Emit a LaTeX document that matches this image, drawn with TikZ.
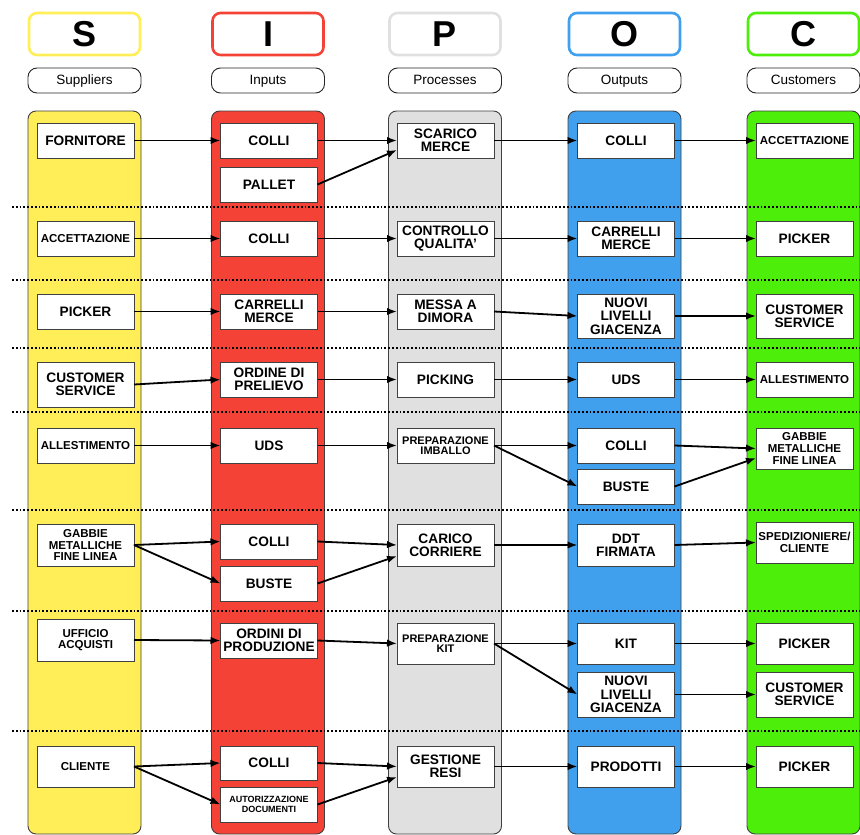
\documentclass[tikz,border=0pt]{standalone}
\usepackage{fontspec}
\setmainfont{Liberation Sans}
\usetikzlibrary{arrows.meta,shadows}
\definecolor{supY}{HTML}{FFEE58}
\definecolor{inpR}{HTML}{F44336}
\definecolor{proG}{HTML}{E0E0E0}
\definecolor{outB}{HTML}{40A0EE}
\definecolor{cusG}{HTML}{4CEE0A}
\begin{document}
\begin{tikzpicture}[x=1pt,y=-1pt,
  hdr/.style={draw, line width=2.6pt, rounded corners=8pt, fill=white,
    minimum width=111pt, minimum height=42pt, inner sep=0pt,
    font=\bfseries\fontsize{36}{36}\selectfont},
  pill/.style={draw=black!85, line width=0.9pt, rounded corners=9pt, fill=white,
    minimum width=113pt, minimum height=25pt, inner sep=0pt,
    text height=9.8pt, text depth=2.6pt,
    font=\fontsize{13.5}{13.5}\selectfont},
  lane/.style={draw=black!75, line width=0.9pt, rounded corners=8pt,
    minimum width=113pt, minimum height=723pt, inner sep=0pt},
  box/.style={draw=black!75, line width=0.9pt, fill=white, outer sep=0pt,
    minimum width=97pt, minimum height=35pt, inner sep=0pt, align=center,
    drop shadow={shadow xshift=0.8pt, shadow yshift=-0.8pt, opacity=0.45, fill=black!70},
    font=\bfseries\fontsize{13.7}{13.4}\selectfont},
  sm/.style={font=\bfseries\fontsize{11.5}{11.7}\selectfont},
  prep/.style={font=\bfseries\fontsize{11}{10.2}\selectfont},
  tiny/.style={font=\bfseries\fontsize{9}{10}\selectfont},
  arr/.style={-{Latex[length=10pt,width=7.5pt]}, line width=1.8pt, black},
  sep/.style={line width=1.7pt, dash pattern=on 1.7pt off 2.1pt, black}]
\useasboundingbox (0,0) rectangle (860,835);

% column headers
\node[hdr, draw=supY] (hS) at (84.5,34) {S};
\node[hdr, draw=inpR] (hI) at (268,34) {I};
\node[hdr, draw=proG] (hP) at (445,34) {P};
\node[hdr, draw=outB] (hO) at (624.5,34) {O};
\node[hdr, draw=cusG] (hC) at (803.5,34) {C};

\node[pill] (tS) at (84.5,80.5) {Suppliers};
\node[pill] (tI) at (268,80.5) {Inputs};
\node[pill] (tP) at (445,80.5) {Processes};
\node[pill] (tO) at (624.5,80.5) {Outputs};
\node[pill] (tC) at (803.5,80.5) {Customers};

% swimlanes
\node[lane, fill=supY] (lS) at (84.5,472.5) {};
\node[lane, fill=inpR] (lI) at (268,472.5) {};
\node[lane, fill=proG] (lP) at (445,472.5) {};
\node[lane, fill=outB] (lO) at (624.5,472.5) {};
\node[lane, fill=cusG] (lC) at (803.5,472.5) {};

% row separators
\foreach \yy in {207,280,348,412,510,611,731}
  \draw[sep] (12,\yy) -- (860,\yy);

% row 1
\node[box] (s1) at (85.5,140.5) {FORNITORE};
\node[box] (i1a) at (269,140.5) {COLLI};
\node[box] (i1b) at (269,184.5) {PALLET};
\node[box] (p1) at (445.5,140.5) {SCARICO\\MERCE};
\node[box] (o1) at (626,140.5) {COLLI};
\node[box, sm] (c1) at (804.5,140.5) {ACCETTAZIONE};

% row 2
\node[box, sm] (s2) at (85.5,238.5) {ACCETTAZIONE};
\node[box] (i2) at (269,238.5) {COLLI};
\node[box] (p2) at (445.5,238.5) {CONTROLLO\\QUALITA'};
\node[box] (o2) at (626,238.5) {CARRELLI\\MERCE};
\node[box] (c2) at (804.5,238.5) {PICKER};

% row 3
\node[box] (s3) at (85.5,311.5) {PICKER};
\node[box] (i3) at (269,311.5) {CARRELLI\\MERCE};
\node[box] (p3) at (445.5,311.5) {MESSA A\\DIMORA};
\node[box, minimum height=44pt] (o3) at (626,316) {NUOVI\\LIVELLI\\GIACENZA};
\node[box, minimum height=44pt] (c3) at (804.5,316) {CUSTOMER\\SERVICE};

% row 4
\node[box, minimum height=45pt] (s4) at (85.5,384.5) {CUSTOMER\\SERVICE};
\node[box] (i4) at (269,379.5) {ORDINE DI\\PRELIEVO};
\node[box] (p4) at (445.5,379.5) {PICKING};
\node[box] (o4) at (626,379.5) {UDS};
\node[box, sm] (c4) at (804.5,379.5) {ALLESTIMENTO};

% row 5
\node[box, sm] (s5) at (85.5,445.5) {ALLESTIMENTO};
\node[box] (i5) at (269,445.5) {UDS};
\node[box, prep] (p5) at (445.5,445.5) {PREPARAZIONE\\IMBALLO};
\node[box] (o5a) at (626,445.5) {COLLI};
\node[box] (o5b) at (626,486.5) {BUSTE};
\node[box, sm, minimum height=41pt] (c5) at (804.5,448.5) {GABBIE\\METALLICHE\\FINE LINEA};

% row 6
\node[box, sm, minimum height=42pt] (s6) at (85.5,545) {GABBIE\\METALLICHE\\FINE LINEA};
\node[box] (i6a) at (269,541.5) {COLLI};
\node[box] (i6b) at (269,583.5) {BUSTE};
\node[box, minimum height=42pt] (p6) at (445.5,545) {CARICO\\CORRIERE};
\node[box, minimum height=42pt] (o6) at (626,545) {DDT\\FIRMATA};
\node[box, sm, minimum height=41pt] (c6) at (804.5,542.5) {SPEDIZIONIERE/\\CLIENTE};

% row 7
\node[box, sm, minimum height=42pt] (s7) at (85.5,640) {UFFICIO\\ACQUISTI};
\node[box] (i7) at (269,640.5) {ORDINI DI\\PRODUZIONE};
\node[box, prep, minimum height=41pt] (p7) at (445.5,643.5) {PREPARAZIONE\\KIT};
\node[box, minimum height=41pt] (o7a) at (626,643.5) {KIT};
\node[box, minimum height=45pt] (o7b) at (626,694.5) {NUOVI\\LIVELLI\\GIACENZA};
\node[box, minimum height=41pt] (c7a) at (804.5,643.5) {PICKER};
\node[box, minimum height=45pt] (c7b) at (804.5,694.5) {CUSTOMER\\SERVICE};

% row 8
\node[box, sm, minimum height=41pt] (s8) at (85.5,766.5) {CLIENTE};
\node[box, minimum height=34pt] (i8a) at (269,763) {COLLI};
\node[box, tiny] (i8b) at (269,804.5) {AUTORIZZAZIONE\\DOCUMENTI};
\node[box, minimum height=41pt] (p8) at (445.5,766.5) {GESTIONE\\RESI};
\node[box, minimum height=41pt] (o8) at (626,766.5) {PRODOTTI};
\node[box, minimum height=41pt] (c8) at (804.5,766.5) {PICKER};

% connectors
\draw[arr] (s1.east) -- (i1a.west);
\draw[arr] (i1a.east) -- (p1.west);
\draw[arr] (i1b.east) -- ([yshift=-9.5pt]p1.west);
\draw[arr] (p1.east) -- (o1.west);
\draw[arr] (o1.east) -- (c1.west);

\draw[arr] (s2.east) -- (i2.west);
\draw[arr] (i2.east) -- (p2.west);
\draw[arr] (p2.east) -- (o2.west);
\draw[arr] (o2.east) -- (c2.west);

\draw[arr] (s3.east) -- (i3.west);
\draw[arr] (i3.east) -- (p3.west);
\draw[arr] (p3.east) -- (o3.west);
\draw[arr] (o3.east) -- (c3.west);

\draw[arr] (s4.east) -- (i4.west);
\draw[arr] (i4.east) -- (p4.west);
\draw[arr] (p4.east) -- (o4.west);
\draw[arr] (o4.east) -- (c4.west);

\draw[arr] (s5.east) -- (i5.west);
\draw[arr] (i5.east) -- (p5.west);
\draw[arr] (p5.east) -- (o5a.west);
\draw[arr] (p5.east) -- (o5b.west);
\draw[arr] (o5a.east) -- (c5.west);
\draw[arr] (o5b.east) -- ([yshift=-9.5pt]c5.west);

\draw[arr] (s6.east) -- (i6a.west);
\draw[arr] (s6.east) -- (i6b.west);
\draw[arr] (i6a.east) -- (p6.west);
\draw[arr] (i6b.east) -- ([yshift=-11pt]p6.west);
\draw[arr] (p6.east) -- (o6.west);
\draw[arr] (o6.east) -- (c6.west);

\draw[arr] (s7.east) -- (i7.west);
\draw[arr] (i7.east) -- (p7.west);
\draw[arr] (p7.east) -- (o7a.west);
\draw[arr] (p7.east) -- (o7b.west);
\draw[arr] (o7a.east) -- (c7a.west);
\draw[arr] (o7b.east) -- (c7b.west);

\draw[arr] (s8.east) -- (i8a.west);
\draw[arr] (s8.east) -- (i8b.west);
\draw[arr] (i8a.east) -- (p8.west);
\draw[arr] (i8b.east) -- ([yshift=-10.5pt]p8.west);
\draw[arr] (p8.east) -- (o8.west);
\draw[arr] (o8.east) -- (c8.west);
\end{tikzpicture}
\end{document}
